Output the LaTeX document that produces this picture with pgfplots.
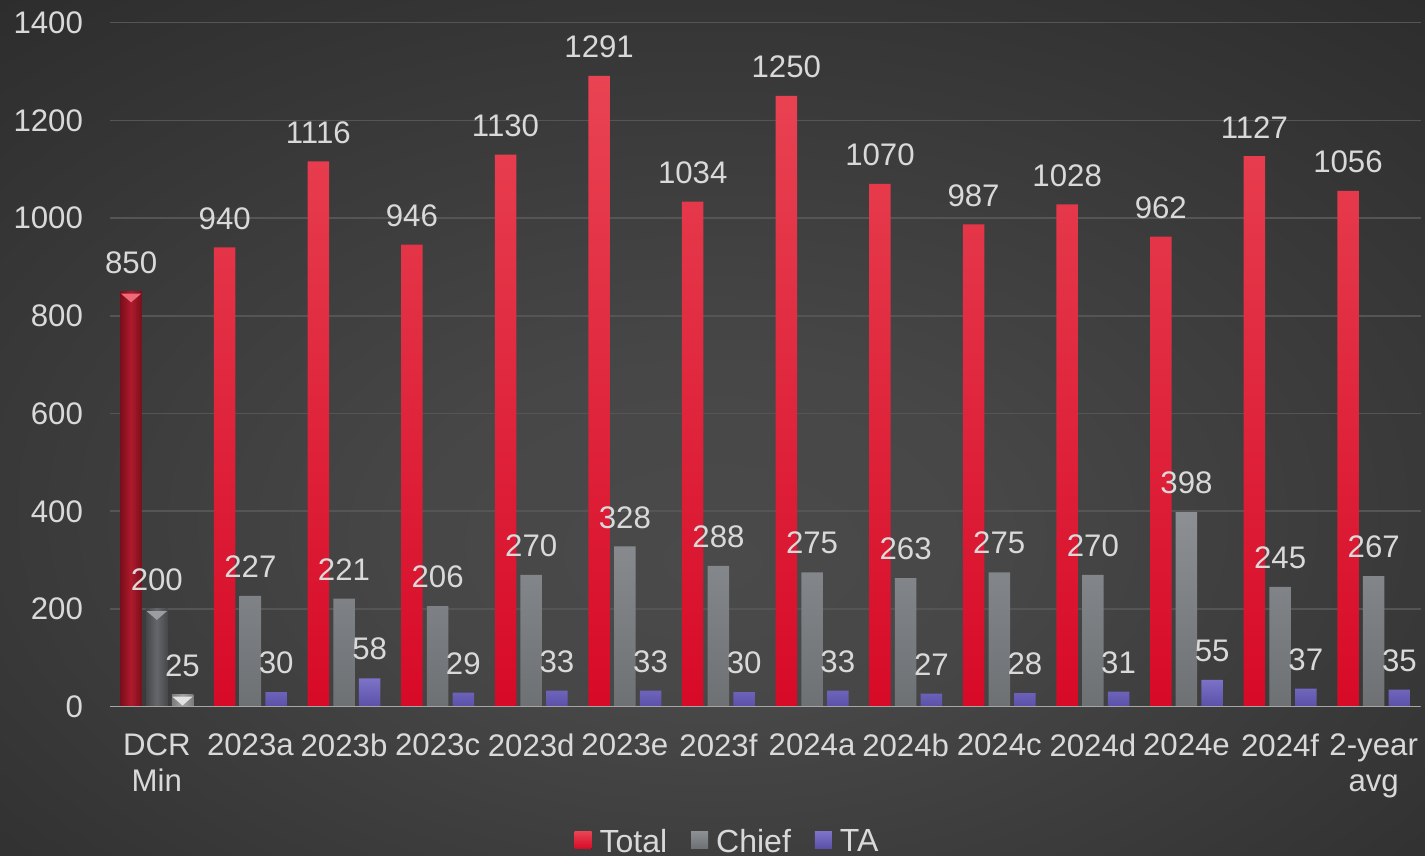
\documentclass[border=0pt]{standalone}
\usepackage{fontspec}
\setmainfont{Liberation Sans}
\usepackage{pgfplots}
\pgfplotsset{compat=1.18}

\definecolor{bgin}{HTML}{4A4A4A}
\definecolor{bgout}{HTML}{262626}
\definecolor{lbl}{HTML}{D9D9D9}
\definecolor{gridc}{HTML}{555555}
\definecolor{axisc}{HTML}{A6A6A6}
\definecolor{redtop}{HTML}{E94453}
\definecolor{redbot}{HTML}{D70A27}
\definecolor{graytop}{HTML}{8C9094}
\definecolor{graybot}{HTML}{6D7174}
\definecolor{tatop}{HTML}{7D74C9}
\definecolor{tabot}{HTML}{5A50A8}
\definecolor{dredmid}{HTML}{AE1A2C}
\definecolor{dredside}{HTML}{7A0E1C}
\definecolor{dgraymid}{HTML}{66676B}
\definecolor{dgrayside}{HTML}{46474B}
\definecolor{lgraymid}{HTML}{A2A2A2}
\definecolor{lgrayside}{HTML}{7C7C7C}
\definecolor{bevred}{HTML}{EE6A78}
\definecolor{bevgray}{HTML}{9C9DA1}
\definecolor{bevlight}{HTML}{E2E2E2}

\pgfdeclareradialshading{bgshade}{\pgfpoint{0bp}{-8bp}}{color(0bp)=(bgin); color(10bp)=(bgin!92!bgout); color(45bp)=(bgout); color(60bp)=(bgout)}

\begin{document}
\begin{tikzpicture}
\shade[shading=bgshade] (0,0) rectangle (712.5pt,428pt);
\useasboundingbox (0,0) rectangle (712.5pt,428pt);
\begin{axis}[
    at={(55pt,74.65pt)}, anchor=south west,
    scale only axis, width=655.25pt, height=342pt,
    xmin=-0.5, xmax=13.5, ymin=0, ymax=1400,
    ytick={0,200,...,1400},
    xtick={0,...,13},
    xticklabels={{DCR\\Min},2023a,2023b,2023c,2023d,2023e,2023f,2024a,2024b,2024c,2024d,2024e,2024f,{2-year\\avg}},
    axis line style={draw=none},
    major tick length=0pt,
    ymajorgrids, grid style={draw=gridc, line width=0.8pt},
    /pgf/number format/1000 sep={},
    /pgf/number format/assume math mode=true,
    font=\fontsize{15.6}{18}\selectfont,
    tick label style={text=lbl},
    yticklabel style={xshift=-10pt},
    xticklabel style={align=center, yshift=-10pt},
    bar width=10.75pt,
    nodes near coords,
    every node near coord/.append style={text=lbl, yshift=5.5pt, font=\fontsize{15.6}{18}\selectfont},
    legend style={at={(0.472,-0.198)}, anchor=center, draw=none, fill=none, text=lbl,
        legend columns=-1, font=\fontsize{16}{19}\selectfont,
        /tikz/every even column/.append style={column sep=10pt}},
    legend image code/.code={\fill[#1,draw=none] (0pt,-3.2pt) rectangle (8.5pt,5.3pt);\path (10.5pt,0pt);},
]
% DCR Min group (distinct style)
\addplot[ybar, bar shift=-12.85pt, draw=none, left color=dredside, right color=dredside, middle color=dredmid,
    nodes near coords style={xshift=-12.85pt}, forget plot]
    coordinates {(0,850)};
\addplot[ybar, bar shift=0pt, draw=none, left color=dgrayside, right color=dgrayside, middle color=dgraymid, forget plot]
    coordinates {(0,200)};
\addplot[ybar, bar shift=12.85pt, draw=none, left color=lgrayside, right color=lgrayside, middle color=lgraymid,
    nodes near coords style={xshift=12.85pt}, forget plot]
    coordinates {(0,25)};
% bevel tips on the DCR Min bars
\addplot[only marks, bevred, nodes near coords={}, mark=triangle*, mark size=5.2pt, forget plot,
    mark options={draw=none, fill=bevred, xshift=-12.85pt, yshift=-2.6pt, yscale=0.5, rotate=180}]
    coordinates {(0,850)};
\addplot[only marks, bevgray, nodes near coords={}, mark=triangle*, mark size=5.2pt, forget plot,
    mark options={draw=none, fill=bevgray, yshift=-2.6pt, yscale=0.5, rotate=180}]
    coordinates {(0,200)};
\addplot[only marks, bevlight, nodes near coords={}, mark=triangle*, mark size=5.2pt, forget plot,
    mark options={draw=none, fill=bevlight, xshift=12.85pt, yshift=-2.6pt, yscale=0.5, rotate=180}]
    coordinates {(0,25)};
% periods
\addplot[ybar, bar shift=-12.85pt, draw=none, top color=redtop, bottom color=redbot,
    nodes near coords style={xshift=-12.85pt}]
    coordinates {(1,940) (2,1116) (3,946) (4,1130) (5,1291) (6,1034) (7,1250)
                 (8,1070) (9,987) (10,1028) (11,962) (12,1127) (13,1056)};
\addplot[ybar, bar shift=0pt, draw=none, top color=graytop, bottom color=graybot]
    coordinates {(1,227) (2,221) (3,206) (4,270) (5,328) (6,288) (7,275)
                 (8,263) (9,275) (10,270) (11,398) (12,245) (13,267)};
\addplot[ybar, bar shift=12.85pt, draw=none, top color=tatop, bottom color=tabot,
    nodes near coords style={xshift=12.85pt}]
    coordinates {(1,30) (2,58) (3,29) (4,33) (5,33) (6,30) (7,33)
                 (8,27) (9,28) (10,31) (11,55) (12,37) (13,35)};
\legend{Total,Chief,TA}
\draw[axisc, line width=1pt] (rel axis cs:0,0) -- (rel axis cs:1,0);
\end{axis}
\end{tikzpicture}
\end{document}
